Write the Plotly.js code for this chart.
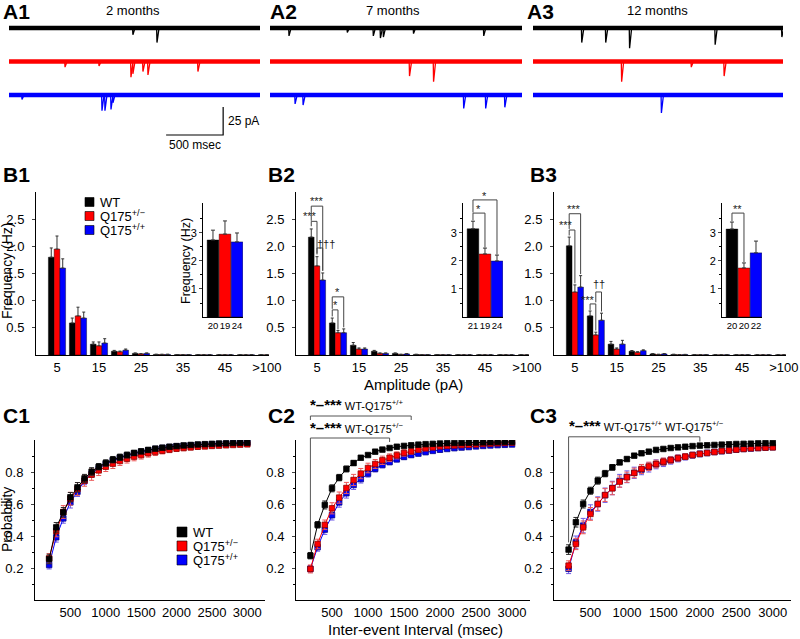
<!DOCTYPE html>
<html>
<head>
<meta charset="utf-8">
<script src="https://cdn.plot.ly/plotly-3.0.1.min.js"></script>
<style>
body { margin: 0; background: #fff; }
#chart { width: 800px; height: 639px; }
</style>
</head>
<body>
<div id="chart"></div>
<script>
const FONT = 'Arial, "Liberation Sans", Helvetica, sans-serif';
const W = 800, H = 639;
const P = px => px / W;          // pixel -> paper x
const Q = py => 1 - py / H;      // pixel -> paper y

// groups
let group_names = ['WT', 'Q175<sup>+/\u2212</sup>', 'Q175<sup>+/+</sup>'];
let group_colors = ['rgb(0,0,0)', 'rgb(255,0,0)', 'rgb(0,0,255)'];
let group_edges = ['rgb(0,0,0)', 'rgb(140,0,0)', 'rgb(0,0,140)'];
let group_errcolors = ['rgb(40,40,40)', 'rgb(235,90,90)', 'rgb(110,90,230)'];
let ages = ['2 months', '7 months', '12 months'];

// A: sample recordings, events (time in ms, amplitude in pA)
let trace_ms = 2200;
let trace_offsets_pA = [0, -30, -60];
let events_2m_t   = [[1086, 1297], [491, 789, 1069, 1086, 1174, 1218, 1656], [114, 815, 841, 894, 911]];
let events_2m_amp = [[6, 13], [5, 4, 14, 11, 9, 12, 9], [4, 14, 14, 13, 7]];
let events_7m_t   = [[166, 675, 902, 964, 990, 1253, 1866], [1218, 1428], [219, 289, 1691, 1883, 2050]];
let events_7m_amp = [[7, 4, 7, 9, 8, 5, 7], [13, 18], [8, 9, 12, 12, 11]];
let events_12m_t   = [[429, 640, 850, 1603, 2190], [780, 1393, 1682], [1130]];
let events_12m_amp = [[13, 13, 18, 15, 8], [18, 5, 13], [16]];
let scale_ms = 500, scale_pA = 25;

// B: amplitude distributions (Hz), rows = WT, Q175+/-, Q175+/+
let amp_bins = ['5', '10', '15', '20', '25', '30', '35', '40', '45', '50', '>100'];
let freq_2m = [
	[1.80, 0.59, 0.20, 0.07, 0.03, 0.010, 0.006, 0.005, 0.004, 0.004, 0.004],
	[1.95, 0.72, 0.17, 0.06, 0.02, 0.010, 0.005, 0.004, 0.004, 0.003, 0.004],
	[1.60, 0.68, 0.22, 0.09, 0.03, 0.010, 0.006, 0.005, 0.004, 0.004, 0.004]];
let freq_2m_err = [
	[0.17, 0.09, 0.04, 0.015, 0.008, 0.005, 0.003, 0.003, 0.002, 0.002, 0.003],
	[0.24, 0.16, 0.07, 0.012, 0.006, 0.004, 0.003, 0.002, 0.002, 0.002, 0.002],
	[0.17, 0.11, 0.08, 0.020, 0.008, 0.005, 0.003, 0.003, 0.002, 0.002, 0.003]];
let freq_7m = [
	[2.17, 0.59, 0.18, 0.07, 0.03, 0.010, 0.006, 0.005, 0.004, 0.004, 0.004],
	[1.64, 0.41, 0.11, 0.03, 0.01, 0.006, 0.004, 0.003, 0.003, 0.003, 0.003],
	[1.38, 0.41, 0.11, 0.03, 0.02, 0.006, 0.004, 0.003, 0.003, 0.003, 0.003]];
let freq_7m_err = [
	[0.15, 0.09, 0.05, 0.015, 0.008, 0.004, 0.003, 0.002, 0.002, 0.002, 0.002],
	[0.17, 0.04, 0.02, 0.008, 0.005, 0.003, 0.002, 0.002, 0.002, 0.002, 0.002],
	[0.13, 0.07, 0.02, 0.008, 0.005, 0.003, 0.002, 0.002, 0.002, 0.002, 0.002]];
let freq_12m = [
	[2.01, 0.72, 0.20, 0.07, 0.02, 0.010, 0.005, 0.004, 0.004, 0.003, 0.003],
	[1.16, 0.37, 0.11, 0.05, 0.01, 0.005, 0.004, 0.003, 0.003, 0.003, 0.003],
	[1.25, 0.64, 0.20, 0.08, 0.02, 0.008, 0.005, 0.004, 0.004, 0.003, 0.003]];
let freq_12m_err = [
	[0.16, 0.09, 0.05, 0.012, 0.006, 0.004, 0.003, 0.002, 0.002, 0.002, 0.002],
	[0.13, 0.05, 0.02, 0.010, 0.004, 0.003, 0.002, 0.002, 0.002, 0.002, 0.002],
	[0.21, 0.13, 0.07, 0.015, 0.006, 0.004, 0.003, 0.002, 0.002, 0.002, 0.002]];

// B insets: total frequency (Hz) and number of cells
let total_2m = [2.75, 2.96, 2.68], total_2m_err = [0.35, 0.47, 0.32], cells_2m = [20, 19, 24];
let total_7m = [3.15, 2.25, 2.00], total_7m_err = [0.27, 0.21, 0.21], cells_7m = [21, 19, 24];
let total_12m = [3.14, 1.75, 2.29], total_12m_err = [0.25, 0.18, 0.42], cells_12m = [20, 20, 22];

// C: cumulative probability of inter-event intervals
let intervals = [200, 300, 400, 500, 600, 700, 800, 900, 1000, 1100, 1200, 1300, 1400, 1500, 1600,
	1700, 1800, 1900, 2000, 2100, 2200, 2300, 2400, 2500, 2600, 2700, 2800, 2900, 3000];
let cum_2m = [
	[0.256, 0.454, 0.548, 0.642, 0.704, 0.760, 0.802, 0.833, 0.856, 0.877, 0.892, 0.906, 0.919, 0.929, 0.938,
	 0.946, 0.952, 0.958, 0.962, 0.966, 0.969, 0.972, 0.974, 0.976, 0.978, 0.979, 0.981, 0.982, 0.983],
	[0.260, 0.430, 0.550, 0.633, 0.694, 0.746, 0.783, 0.810, 0.833, 0.852, 0.869, 0.883, 0.896, 0.906, 0.917,
	 0.925, 0.933, 0.940, 0.946, 0.950, 0.954, 0.958, 0.960, 0.963, 0.965, 0.967, 0.969, 0.971, 0.973],
	[0.219, 0.392, 0.510, 0.610, 0.677, 0.746, 0.790, 0.823, 0.850, 0.871, 0.888, 0.902, 0.915, 0.925, 0.935,
	 0.944, 0.950, 0.956, 0.960, 0.963, 0.966, 0.969, 0.971, 0.973, 0.975, 0.977, 0.979, 0.981, 0.982]];
let cum_2m_err = [
	[0.030, 0.030, 0.030, 0.030, 0.030, 0.025, 0.025, 0.020, 0.020, 0.020, 0.020, 0.018, 0.016, 0.015, 0.013,
	 0.012, 0.011, 0.010, 0.010, 0.009, 0.008, 0.008, 0.007, 0.007, 0.006, 0.006, 0.005, 0.005, 0.005],
	[0.030, 0.035, 0.040, 0.040, 0.040, 0.035, 0.035, 0.032, 0.030, 0.030, 0.028, 0.027, 0.026, 0.025, 0.024,
	 0.022, 0.020, 0.019, 0.018, 0.017, 0.016, 0.015, 0.014, 0.013, 0.012, 0.012, 0.011, 0.010, 0.010],
	[0.025, 0.030, 0.030, 0.035, 0.030, 0.025, 0.022, 0.020, 0.020, 0.018, 0.017, 0.016, 0.015, 0.014, 0.013,
	 0.012, 0.011, 0.010, 0.010, 0.009, 0.008, 0.008, 0.007, 0.007, 0.006, 0.006, 0.006, 0.005, 0.005]];
let cum_7m = [
	[0.277, 0.470, 0.594, 0.698, 0.765, 0.819, 0.856, 0.889, 0.906, 0.927, 0.940, 0.950, 0.958, 0.963, 0.967,
	 0.971, 0.974, 0.976, 0.978, 0.980, 0.981, 0.982, 0.983, 0.984, 0.985, 0.986, 0.987, 0.988, 0.989],
	[0.194, 0.350, 0.470, 0.573, 0.640, 0.700, 0.750, 0.790, 0.825, 0.850, 0.873, 0.889, 0.904, 0.919, 0.929,
	 0.940, 0.948, 0.954, 0.960, 0.963, 0.966, 0.968, 0.970, 0.972, 0.975, 0.977, 0.979, 0.981, 0.983],
	[0.195, 0.330, 0.440, 0.530, 0.610, 0.667, 0.719, 0.756, 0.790, 0.820, 0.844, 0.862, 0.879, 0.894, 0.906,
	 0.915, 0.924, 0.932, 0.939, 0.944, 0.949, 0.953, 0.956, 0.960, 0.963, 0.966, 0.968, 0.970, 0.972]];
let cum_7m_err = [
	[0.020, 0.020, 0.025, 0.022, 0.020, 0.018, 0.015, 0.012, 0.010, 0.010, 0.008, 0.007, 0.006, 0.006, 0.005,
	 0.005, 0.005, 0.004, 0.004, 0.004, 0.004, 0.003, 0.003, 0.003, 0.003, 0.003, 0.003, 0.003, 0.003],
	[0.025, 0.030, 0.030, 0.035, 0.035, 0.035, 0.035, 0.032, 0.030, 0.028, 0.026, 0.024, 0.022, 0.020, 0.018,
	 0.016, 0.015, 0.014, 0.013, 0.012, 0.011, 0.010, 0.010, 0.009, 0.008, 0.008, 0.007, 0.007, 0.006],
	[0.020, 0.025, 0.030, 0.030, 0.030, 0.030, 0.028, 0.025, 0.022, 0.020, 0.018, 0.016, 0.015, 0.014, 0.013,
	 0.012, 0.011, 0.010, 0.010, 0.009, 0.008, 0.008, 0.007, 0.007, 0.006, 0.006, 0.006, 0.005, 0.005]];
let cum_12m = [
	[0.315, 0.486, 0.600, 0.683, 0.746, 0.790, 0.829, 0.860, 0.881, 0.902, 0.917, 0.927, 0.938, 0.944, 0.950,
	 0.954, 0.958, 0.962, 0.965, 0.967, 0.969, 0.971, 0.973, 0.975, 0.976, 0.977, 0.979, 0.980, 0.981],
	[0.215, 0.350, 0.454, 0.538, 0.600, 0.656, 0.698, 0.740, 0.767, 0.794, 0.819, 0.835, 0.850, 0.865, 0.875,
	 0.887, 0.896, 0.906, 0.913, 0.919, 0.925, 0.931, 0.935, 0.940, 0.944, 0.948, 0.950, 0.952, 0.954],
	[0.195, 0.360, 0.465, 0.550, 0.600, 0.655, 0.700, 0.745, 0.770, 0.795, 0.815, 0.830, 0.848, 0.860, 0.873,
	 0.885, 0.895, 0.905, 0.913, 0.919, 0.925, 0.930, 0.935, 0.940, 0.944, 0.947, 0.950, 0.953, 0.955]];
let cum_12m_err = [
	[0.030, 0.030, 0.025, 0.022, 0.022, 0.020, 0.017, 0.014, 0.012, 0.010, 0.009, 0.008, 0.007, 0.006, 0.006,
	 0.005, 0.005, 0.005, 0.004, 0.004, 0.004, 0.004, 0.003, 0.003, 0.003, 0.003, 0.003, 0.003, 0.003],
	[0.030, 0.035, 0.040, 0.040, 0.040, 0.040, 0.040, 0.035, 0.032, 0.030, 0.028, 0.026, 0.024, 0.022, 0.020,
	 0.019, 0.018, 0.017, 0.016, 0.015, 0.014, 0.013, 0.012, 0.011, 0.011, 0.010, 0.010, 0.009, 0.009],
	[0.030, 0.040, 0.045, 0.045, 0.045, 0.045, 0.042, 0.040, 0.037, 0.035, 0.032, 0.030, 0.028, 0.026, 0.024,
	 0.022, 0.020, 0.019, 0.018, 0.017, 0.016, 0.015, 0.014, 0.013, 0.012, 0.012, 0.011, 0.010, 0.010]];

let events_t = [events_2m_t, events_7m_t, events_12m_t];
let events_amp = [events_2m_amp, events_7m_amp, events_12m_amp];
let freqs = [freq_2m, freq_7m, freq_12m];
let freqs_err = [freq_2m_err, freq_7m_err, freq_12m_err];
let totals = [total_2m, total_7m, total_12m];
let totals_err = [total_2m_err, total_7m_err, total_12m_err];
let cells = [cells_2m, cells_7m, cells_12m];
let cums = [cum_2m, cum_7m, cum_12m];
let cums_err = [cum_2m_err, cum_7m_err, cum_12m_err];

function axId(n) { return n === 1 ? '' : String(n); }

// pixel layout of the three columns
let colA = [[9, 260], [270, 522], [533, 783]];
let colB = [[36, 269], [296, 529], [554, 786]];
let colInset = [[203, 243], [463, 503], [722, 762]];
let colC = [[35, 265], [296, 530], [554, 791]];
let A_rows = [18, 140], B_rows = [192, 355], Inset_rows = [203, 317], C_rows = [440, 600];
let inset_top = 4.07;
let bar_gap = 0.18;
let bw = (1 - bar_gap) / 3;

let traces = [];
let layout = {
	width: W, height: H,
	margin: {l: 0, r: 0, t: 0, b: 0},
	paper_bgcolor: '#fff', plot_bgcolor: 'rgba(0,0,0,0)',
	font: {family: FONT, size: 13, color: '#000'},
	showlegend: false,
	barmode: 'group', bargap: bar_gap, bargroupgap: 0,
	shapes: [], annotations: []
};

function note(text, x, y, extra) {
	return Object.assign({text: text, x: x, y: y, xref: 'paper', yref: 'paper', showarrow: false,
		xanchor: 'center', yanchor: 'middle',
		font: {family: FONT, size: 13, color: '#000'}}, extra || {});
}

// ---------- A: sample traces ----------
for (let p = 0; p < 3; p++) {
	let n = 1 + p;
	let xa = 'x' + axId(n), ya = 'y' + axId(n);
	for (let g = 0; g < 3; g++) {
		let base = trace_offsets_pA[g];
		traces.push({type: 'scatter', mode: 'lines', x: [0, trace_ms], y: [base, base],
			line: {color: group_colors[g], width: 4.5}, xaxis: xa, yaxis: ya, hoverinfo: 'skip'});
		let xs = [], ys = [];
		events_t[p][g].forEach(function(t, i) {
			xs.push(t - 3, t, t + 18, null);
			ys.push(base, base - events_amp[p][g][i], base, null);
		});
		traces.push({type: 'scatter', mode: 'lines', x: xs, y: ys, connectgaps: false,
			line: {color: group_colors[g], width: 1.3}, xaxis: xa, yaxis: ya, hoverinfo: 'skip'});
	}
	layout['xaxis' + axId(n)] = {domain: [P(colA[p][0]), P(colA[p][1])], range: [0, trace_ms], visible: false, anchor: ya};
	layout['yaxis' + axId(n)] = {domain: [Q(A_rows[1]), Q(A_rows[0])], range: [-100.3, 9], visible: false, anchor: xa};
}
// scale bar, in A1 data units
let sb_x = 1877, sb_y = -95.8;
layout.shapes.push({type: 'path', xref: 'x', yref: 'y',
	path: 'M' + (sb_x - scale_ms) + ',' + sb_y + 'L' + sb_x + ',' + sb_y + 'L' + sb_x + ',' + (sb_y + scale_pA),
	line: {color: '#000', width: 1.2}});
layout.annotations.push({text: scale_pA + ' pA', x: sb_x, y: sb_y + scale_pA / 2, xref: 'x', yref: 'y',
	xanchor: 'left', yanchor: 'middle', xshift: 3, showarrow: false, font: {family: FONT, size: 12}});
layout.annotations.push({text: scale_ms + ' msec', x: sb_x - scale_ms / 2, y: sb_y, xref: 'x', yref: 'y',
	xanchor: 'center', yanchor: 'top', yshift: -1, showarrow: false, font: {family: FONT, size: 12}});

// ---------- B: amplitude histograms ----------
let bin_pos = amp_bins.map(function(b, i) { return i; });
for (let p = 0; p < 3; p++) {
	let n = 4 + p;
	let xa = 'x' + axId(n), ya = 'y' + axId(n);
	for (let g = 0; g < 3; g++) {
		traces.push({type: 'bar', x: bin_pos, y: freqs[p][g], xaxis: xa, yaxis: ya,
			marker: {color: group_colors[g], line: {color: '#000', width: 0.4}},
			error_y: {type: 'data', symmetric: false, array: freqs_err[p][g],
				arrayminus: freqs_err[p][g].map(function() { return 0; }),
				color: '#333', thickness: 1, width: 1.5},
			hoverinfo: 'skip'});
	}
	layout['xaxis' + axId(n)] = {domain: [P(colB[p][0]), P(colB[p][1])], range: [-1, 10.1], anchor: ya,
		showline: true, linecolor: '#000', linewidth: 1, showgrid: false, zeroline: false, ticks: '',
		tickvals: bin_pos.filter(function(i) { return i % 2 === 0; }),
		ticktext: amp_bins.filter(function(b, i) { return i % 2 === 0; }),
		tickangle: 0, ticklabeloverflow: 'allow', tickfont: {size: 13}};
	layout['yaxis' + axId(n)] = {domain: [Q(B_rows[1]), Q(B_rows[0])], range: [0, 3.0], anchor: xa,
		showline: true, linecolor: '#000', linewidth: 1, showgrid: false, zeroline: false,
		ticks: 'outside', ticklen: 3, ticklabelstandoff: 5,
		tickvals: [0.5, 1, 1.5, 2, 2.5], tickformat: '.1f', tickfont: {size: 13}};

	// inset: total frequency
	let m = 7 + p;
	let ixa = 'x' + axId(m), iya = 'y' + axId(m);
	traces.push({type: 'bar', x: [0, 1, 2], y: totals[p], width: 0.97, xaxis: ixa, yaxis: iya,
		marker: {color: group_colors, line: {color: '#000', width: 0.4}},
		error_y: {type: 'data', symmetric: false, array: totals_err[p], arrayminus: [0, 0, 0],
			color: '#333', thickness: 1, width: 2},
		hoverinfo: 'skip'});
	layout['xaxis' + axId(m)] = {domain: [P(colInset[p][0]), P(colInset[p][1])], range: [-0.83, 2.5], anchor: iya,
		showline: true, linecolor: '#000', linewidth: 1, showgrid: false, zeroline: false, ticks: '',
		tickvals: [0, 1, 2], ticktext: cells[p].map(String), tickangle: 0, ticklabeloverflow: 'allow',
		tickfont: {size: 9.5}};
	layout['yaxis' + axId(m)] = {domain: [Q(Inset_rows[1]), Q(Inset_rows[0])], range: [0, inset_top], anchor: ixa,
		showline: true, linecolor: '#000', linewidth: 1, showgrid: false, zeroline: false,
		ticks: 'outside', ticklen: 3, tickvals: [1, 2, 3], tickfont: {size: 11},
		minor: {tickvals: [0.5, 1.5, 2.5, 3.5], ticks: 'outside', ticklen: 2, tickcolor: '#000'}};
}

// ---------- C: cumulative probability ----------
for (let p = 0; p < 3; p++) {
	let n = 10 + p;
	let xa = 'x' + axId(n), ya = 'y' + axId(n);
	[2, 1, 0].forEach(function(g) {
		traces.push({type: 'scatter', mode: 'lines+markers', x: intervals, y: cums[p][g], xaxis: xa, yaxis: ya,
			line: {color: group_colors[g], width: 1},
			marker: {symbol: 'square', size: 5.5, color: group_colors[g], line: {color: group_edges[g], width: 0.8}},
			error_y: {type: 'data', array: cums_err[p][g], color: group_errcolors[g], thickness: 1, width: 2.5},
			hoverinfo: 'skip'});
	});
	layout['xaxis' + axId(n)] = {domain: [P(colC[p][0]), P(colC[p][1])], range: [0, 3250], anchor: ya,
		showline: true, linecolor: '#000', linewidth: 1, showgrid: false, zeroline: false, ticks: '',
		tickvals: [500, 1000, 1500, 2000, 2500, 3000], ticklabeloverflow: 'allow', tickfont: {size: 13}};
	layout['yaxis' + axId(n)] = {domain: [Q(C_rows[1]), Q(C_rows[0])], range: [0, 1.0], anchor: xa,
		showline: true, linecolor: '#000', linewidth: 1, showgrid: false, zeroline: false,
		ticks: 'outside', ticklen: 3, ticklabelstandoff: 5,
		tickvals: [0.2, 0.4, 0.6, 0.8], tickformat: '.1f', tickfont: {size: 13},
		minor: {tickvals: [0.1, 0.3, 0.5, 0.7, 0.9], ticks: 'outside', ticklen: 2, tickcolor: '#000'}};
}

// ---------- significance marks ----------
function bracketPath(x0, x1, top, l0, l1) {
	return 'M' + x0 + ',' + l0 + 'L' + x0 + ',' + top + 'L' + x1 + ',' + top + 'L' + x1 + ',' + l1;
}
let sig_main = [
	{n: 5, x0: -bw, x1: 0, top: 2.46, l0: 2.37, l1: 1.87, text: '***', tx: -0.33, ty: 2.55},
	{n: 5, x0: -bw, x1: bw, top: 2.74, l0: 2.47, l1: 1.55, text: '***', tx: 0.0, ty: 2.83},
	{n: 5, x0: 0, x1: bw, top: 1.97, l0: 1.85, l1: 1.55, text: '\u2020\u2020\u2020', tx: 0.42, ty: 2.05},
	{n: 5, x0: 1 - bw, x1: 1, top: 0.83, l0: 0.71, l1: 0.47, text: '*', tx: 0.87, ty: 0.92},
	{n: 5, x0: 1 - bw, x1: 1 + bw, top: 1.07, l0: 0.85, l1: 0.51, text: '*', tx: 1.0, ty: 1.16},
	{n: 6, x0: -bw, x1: 0, top: 2.30, l0: 2.20, l1: 1.32, text: '***', tx: -0.45, ty: 2.40},
	{n: 6, x0: -bw, x1: bw, top: 2.60, l0: 2.32, l1: 1.49, text: '***', tx: -0.05, ty: 2.69},
	{n: 6, x0: 1 - bw, x1: 1, top: 0.94, l0: 0.83, l1: 0.45, text: '***', tx: 0.63, ty: 1.02},
	{n: 6, x0: 1, x1: 1 + bw, top: 1.16, l0: 0.97, l1: 0.80, text: '\u2020\u2020', tx: 1.15, ty: 1.30}
];
sig_main.forEach(function(s) {
	let xa = 'x' + s.n, ya = 'y' + s.n;
	layout.shapes.push({type: 'path', xref: xa, yref: ya, path: bracketPath(s.x0, s.x1, s.top, s.l0, s.l1),
		line: {color: '#444', width: 1}});
	layout.annotations.push({text: s.text, x: s.tx, y: s.ty, xref: xa, yref: ya, showarrow: false,
		xanchor: 'center', yanchor: 'middle', font: {family: FONT, size: 11, color: '#222'}});
});

function insetY(v) { return Q(Inset_rows[1]) + v / inset_top * (Q(Inset_rows[0]) - Q(Inset_rows[1])); }
let sig_inset = [
	{n: 8, x0: 0, x1: 1, top: 3.71, l0: 3.45, l1: 2.48, text: '*', tx: 0.5, ty: 3.86},
	{n: 8, x0: 0, x1: 2, top: 4.18, l0: 3.73, l1: 2.23, text: '*', tx: 1.0, ty: 4.33},
	{n: 9, x0: 0, x1: 1, top: 3.71, l0: 3.42, l1: 1.96, text: '**', tx: 0.5, ty: 3.86}
];
sig_inset.forEach(function(s) {
	let xa = 'x' + s.n;
	layout.shapes.push({type: 'path', xref: xa, yref: 'paper',
		path: bracketPath(s.x0, s.x1, insetY(s.top), insetY(s.l0), insetY(s.l1)),
		line: {color: '#444', width: 1}});
	layout.annotations.push({text: s.text, x: s.tx, y: insetY(s.ty), xref: xa, yref: 'paper', showarrow: false,
		xanchor: 'center', yanchor: 'middle', font: {family: FONT, size: 11, color: '#222'}});
});

function cY(v) { return Q(C_rows[1]) + v * (Q(C_rows[0]) - Q(C_rows[1])); }
let stars = '<b><span style="font-size:15px">*\u2013***</span></b> ';
let sig_cum = [
	{n: 11, x0: 200, x1: 1600, top: 1.15, l0: 1.125, l1: 1.125, text: stars + 'WT-Q175<sup>+/+</sup>', ty: 1.155},
	{n: 11, x0: 200, x1: 1300, top: 1.0125, l0: 0.31, l1: 0.9875, text: stars + 'WT-Q175<sup>+/\u2212</sup>', ty: 1.015},
	{n: 12, x0: 200, x1: 2000, top: 1.02, l0: 0.36, l1: 0.99,
		text: stars + 'WT-Q175<sup>+/+</sup> WT-Q175<sup>+/\u2212</sup>', ty: 1.022}
];
sig_cum.forEach(function(s) {
	let xa = 'x' + s.n;
	layout.shapes.push({type: 'path', xref: xa, yref: 'paper',
		path: bracketPath(s.x0, s.x1, cY(s.top), cY(s.l0), cY(s.l1)),
		line: {color: '#555', width: 1}});
	layout.annotations.push({text: s.text, x: s.x0, y: cY(s.ty), xref: xa, yref: 'paper', showarrow: false,
		xanchor: 'left', yanchor: 'bottom', xshift: -2, font: {family: FONT, size: 11, color: '#000'}});
});

// ---------- labels ----------
let panel_labels = [['A1', 3, 11], ['A2', 270, 11], ['A3', 527, 11],
	['B1', 3, 175], ['B2', 268, 175], ['B3', 530, 175],
	['C1', 3, 415], ['C2', 268, 415], ['C3', 530, 415]];
panel_labels.forEach(function(l) {
	layout.annotations.push(note('<b>' + l[0] + '</b>', P(l[1]), Q(l[2]),
		{xanchor: 'left', xshift: -2, font: {family: FONT, size: 21, color: '#000'}}));
});
[133, 393, 657].forEach(function(cx, i) {
	layout.annotations.push(note(ages[i], P(cx), Q(10), {font: {family: FONT, size: 13}}));
});
layout.annotations.push(note('Frequency (Hz)', P(7), Q(271), {textangle: -90, font: {family: FONT, size: 14}}));
layout.annotations.push(note('Frequency (Hz)', P(186), Q(261), {textangle: -90, font: {family: FONT, size: 12.5}}));
layout.annotations.push(note('Amplitude (pA)', P(414), Q(384), {font: {family: FONT, size: 15}}));
layout.annotations.push(note('Probability', P(7), Q(520), {textangle: -90, font: {family: FONT, size: 14}}));
layout.annotations.push(note('Inter-event Interval (msec)', P(415), Q(629), {font: {family: FONT, size: 15}}));

// legends (B1 bars, C1 markers)
function addLegend(x0, rows, size) {
	group_names.forEach(function(name, g) {
		layout.shapes.push({type: 'rect', xref: 'paper', yref: 'paper',
			x0: P(x0), x1: P(x0 + size), y0: Q(rows[g] + size / 2), y1: Q(rows[g] - size / 2),
			fillcolor: group_colors[g], line: {color: '#000', width: 0.6}});
		layout.annotations.push(note(name, P(x0 + size + 4), Q(rows[g]),
			{xanchor: 'left', font: {family: FONT, size: 13}}));
	});
}
addLegend(85, [202, 216, 230], 9);
addLegend(177, [532, 546, 560], 10);

Plotly.newPlot(document.getElementById('chart'), traces, layout, {displayModeBar: false, staticPlot: true});
</script>
</body>
</html>
